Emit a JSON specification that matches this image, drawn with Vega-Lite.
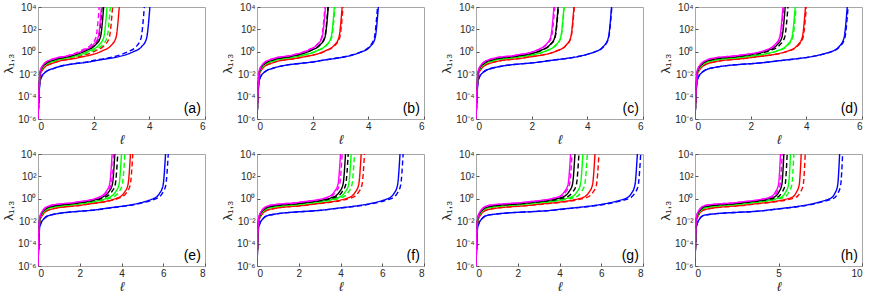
{
"$schema":"https://vega.github.io/schema/vega-lite/v6.json",
"padding":{"left":2,"top":1,"right":2,"bottom":0},
"columns":4,
"spacing":{"row":1,"column":15},
"datasets":{"curves":[
{"p":"a","c":"b","s":"s","x":0,"y":1e-6},{"p":"a","c":"b","s":"s","x":0.08,"y":0.00282},{"p":"a","c":"b","s":"s","x":0.25,"y":0.0141},{"p":"a","c":"b","s":"s","x":0.6,"y":0.0355},{"p":"a","c":"b","s":"s","x":2.01,"y":0.15},{"p":"a","c":"b","s":"s","x":3.42,"y":1},{"p":"a","c":"b","s":"s","x":3.72,"y":2.82},{"p":"a","c":"b","s":"s","x":3.9,"y":15.8},{"p":"a","c":"b","s":"s","x":4.02,"y":10000},
{"p":"a","c":"b","s":"d","x":0,"y":1e-6},{"p":"a","c":"b","s":"d","x":0.08,"y":0.00282},{"p":"a","c":"b","s":"d","x":0.25,"y":0.0141},{"p":"a","c":"b","s":"d","x":0.6,"y":0.0355},{"p":"a","c":"b","s":"d","x":1.91,"y":0.15},{"p":"a","c":"b","s":"d","x":3.22,"y":1},{"p":"a","c":"b","s":"d","x":3.52,"y":2.82},{"p":"a","c":"b","s":"d","x":3.7,"y":15.8},{"p":"a","c":"b","s":"d","x":3.82,"y":10000},
{"p":"a","c":"r","s":"s","x":0,"y":1e-6},{"p":"a","c":"r","s":"s","x":0.08,"y":0.00891},{"p":"a","c":"r","s":"s","x":0.25,"y":0.0447},{"p":"a","c":"r","s":"s","x":0.6,"y":0.112},{"p":"a","c":"r","s":"s","x":1.46,"y":0.299},{"p":"a","c":"r","s":"s","x":2.32,"y":1.26},{"p":"a","c":"r","s":"s","x":2.62,"y":3.55},{"p":"a","c":"r","s":"s","x":2.8,"y":17.8},{"p":"a","c":"r","s":"s","x":2.92,"y":10000},
{"p":"a","c":"r","s":"d","x":0,"y":1e-6},{"p":"a","c":"r","s":"d","x":0.08,"y":0.00891},{"p":"a","c":"r","s":"d","x":0.25,"y":0.0447},{"p":"a","c":"r","s":"d","x":0.6,"y":0.112},{"p":"a","c":"r","s":"d","x":1.34,"y":0.299},{"p":"a","c":"r","s":"d","x":2.08,"y":1.26},{"p":"a","c":"r","s":"d","x":2.38,"y":3.55},{"p":"a","c":"r","s":"d","x":2.56,"y":17.8},{"p":"a","c":"r","s":"d","x":2.68,"y":10000},
{"p":"a","c":"g","s":"s","x":0,"y":1e-6},{"p":"a","c":"g","s":"s","x":0.08,"y":0.0126},{"p":"a","c":"g","s":"s","x":0.25,"y":0.0631},{"p":"a","c":"g","s":"s","x":0.6,"y":0.158},{"p":"a","c":"g","s":"s","x":1.24,"y":0.367},{"p":"a","c":"g","s":"s","x":1.88,"y":1.35},{"p":"a","c":"g","s":"s","x":2.18,"y":3.8},{"p":"a","c":"g","s":"s","x":2.36,"y":18.4},{"p":"a","c":"g","s":"s","x":2.48,"y":10000},
{"p":"a","c":"g","s":"d","x":0,"y":1e-6},{"p":"a","c":"g","s":"d","x":0.08,"y":0.0126},{"p":"a","c":"g","s":"d","x":0.25,"y":0.0631},{"p":"a","c":"g","s":"d","x":0.6,"y":0.158},{"p":"a","c":"g","s":"d","x":1.3,"y":0.367},{"p":"a","c":"g","s":"d","x":2.0,"y":1.35},{"p":"a","c":"g","s":"d","x":2.3,"y":3.8},{"p":"a","c":"g","s":"d","x":2.48,"y":18.4},{"p":"a","c":"g","s":"d","x":2.6,"y":10000},
{"p":"a","c":"k","s":"s","x":0,"y":1e-6},{"p":"a","c":"k","s":"s","x":0.08,"y":0.0159},{"p":"a","c":"k","s":"s","x":0.25,"y":0.0794},{"p":"a","c":"k","s":"s","x":0.6,"y":0.2},{"p":"a","c":"k","s":"s","x":1.18,"y":0.422},{"p":"a","c":"k","s":"s","x":1.76,"y":1.41},{"p":"a","c":"k","s":"s","x":2.06,"y":3.98},{"p":"a","c":"k","s":"s","x":2.24,"y":18.8},{"p":"a","c":"k","s":"s","x":2.36,"y":10000},
{"p":"a","c":"k","s":"d","x":0,"y":1e-6},{"p":"a","c":"k","s":"d","x":0.08,"y":0.0159},{"p":"a","c":"k","s":"d","x":0.25,"y":0.0794},{"p":"a","c":"k","s":"d","x":0.6,"y":0.2},{"p":"a","c":"k","s":"d","x":1.15,"y":0.422},{"p":"a","c":"k","s":"d","x":1.7,"y":1.41},{"p":"a","c":"k","s":"d","x":2.0,"y":3.98},{"p":"a","c":"k","s":"d","x":2.18,"y":18.8},{"p":"a","c":"k","s":"d","x":2.3,"y":10000},
{"p":"a","c":"m","s":"s","x":0,"y":1e-6},{"p":"a","c":"m","s":"s","x":0.08,"y":0.02},{"p":"a","c":"m","s":"s","x":0.25,"y":0.1},{"p":"a","c":"m","s":"s","x":0.6,"y":0.251},{"p":"a","c":"m","s":"s","x":1.14,"y":0.484},{"p":"a","c":"m","s":"s","x":1.68,"y":1.48},{"p":"a","c":"m","s":"s","x":1.98,"y":4.17},{"p":"a","c":"m","s":"s","x":2.16,"y":19.3},{"p":"a","c":"m","s":"s","x":2.28,"y":10000},
{"p":"a","c":"m","s":"d","x":0,"y":1e-6},{"p":"a","c":"m","s":"d","x":0.08,"y":0.02},{"p":"a","c":"m","s":"d","x":0.25,"y":0.1},{"p":"a","c":"m","s":"d","x":0.6,"y":0.251},{"p":"a","c":"m","s":"d","x":1.1,"y":0.484},{"p":"a","c":"m","s":"d","x":1.6,"y":1.48},{"p":"a","c":"m","s":"d","x":1.9,"y":4.17},{"p":"a","c":"m","s":"d","x":2.08,"y":19.3},{"p":"a","c":"m","s":"d","x":2.2,"y":10000},

{"p":"b","c":"b","s":"s","x":0,"y":1e-6},{"p":"b","c":"b","s":"s","x":0.08,"y":0.00282},{"p":"b","c":"b","s":"s","x":0.25,"y":0.0141},{"p":"b","c":"b","s":"s","x":0.6,"y":0.0355},{"p":"b","c":"b","s":"s","x":2.18,"y":0.147},{"p":"b","c":"b","s":"s","x":3.76,"y":1},{"p":"b","c":"b","s":"s","x":4.06,"y":2.82},{"p":"b","c":"b","s":"s","x":4.24,"y":15.8},{"p":"b","c":"b","s":"s","x":4.36,"y":10000},
{"p":"b","c":"b","s":"d","x":0,"y":1e-6},{"p":"b","c":"b","s":"d","x":0.08,"y":0.00282},{"p":"b","c":"b","s":"d","x":0.25,"y":0.0141},{"p":"b","c":"b","s":"d","x":0.6,"y":0.0355},{"p":"b","c":"b","s":"d","x":2.165,"y":0.147},{"p":"b","c":"b","s":"d","x":3.73,"y":1},{"p":"b","c":"b","s":"d","x":4.03,"y":2.82},{"p":"b","c":"b","s":"d","x":4.21,"y":15.8},{"p":"b","c":"b","s":"d","x":4.33,"y":10000},
{"p":"b","c":"r","s":"s","x":0,"y":1e-6},{"p":"b","c":"r","s":"s","x":0.08,"y":0.00891},{"p":"b","c":"r","s":"s","x":0.25,"y":0.0447},{"p":"b","c":"r","s":"s","x":0.6,"y":0.112},{"p":"b","c":"r","s":"s","x":1.53,"y":0.299},{"p":"b","c":"r","s":"s","x":2.46,"y":1.26},{"p":"b","c":"r","s":"s","x":2.76,"y":3.55},{"p":"b","c":"r","s":"s","x":2.94,"y":17.8},{"p":"b","c":"r","s":"s","x":3.06,"y":10000},
{"p":"b","c":"r","s":"d","x":0,"y":1e-6},{"p":"b","c":"r","s":"d","x":0.08,"y":0.00891},{"p":"b","c":"r","s":"d","x":0.25,"y":0.0447},{"p":"b","c":"r","s":"d","x":0.6,"y":0.112},{"p":"b","c":"r","s":"d","x":1.545,"y":0.299},{"p":"b","c":"r","s":"d","x":2.49,"y":1.26},{"p":"b","c":"r","s":"d","x":2.79,"y":3.55},{"p":"b","c":"r","s":"d","x":2.97,"y":17.8},{"p":"b","c":"r","s":"d","x":3.09,"y":10000},
{"p":"b","c":"g","s":"s","x":0,"y":1e-6},{"p":"b","c":"g","s":"s","x":0.08,"y":0.0126},{"p":"b","c":"g","s":"s","x":0.25,"y":0.0631},{"p":"b","c":"g","s":"s","x":0.6,"y":0.158},{"p":"b","c":"g","s":"s","x":1.39,"y":0.367},{"p":"b","c":"g","s":"s","x":2.18,"y":1.35},{"p":"b","c":"g","s":"s","x":2.48,"y":3.8},{"p":"b","c":"g","s":"s","x":2.66,"y":18.4},{"p":"b","c":"g","s":"s","x":2.78,"y":10000},
{"p":"b","c":"g","s":"d","x":0,"y":1e-6},{"p":"b","c":"g","s":"d","x":0.08,"y":0.0126},{"p":"b","c":"g","s":"d","x":0.25,"y":0.0631},{"p":"b","c":"g","s":"d","x":0.6,"y":0.158},{"p":"b","c":"g","s":"d","x":1.4,"y":0.367},{"p":"b","c":"g","s":"d","x":2.2,"y":1.35},{"p":"b","c":"g","s":"d","x":2.5,"y":3.8},{"p":"b","c":"g","s":"d","x":2.68,"y":18.4},{"p":"b","c":"g","s":"d","x":2.8,"y":10000},
{"p":"b","c":"k","s":"s","x":0,"y":1e-6},{"p":"b","c":"k","s":"s","x":0.08,"y":0.0159},{"p":"b","c":"k","s":"s","x":0.25,"y":0.0794},{"p":"b","c":"k","s":"s","x":0.6,"y":0.2},{"p":"b","c":"k","s":"s","x":1.28,"y":0.422},{"p":"b","c":"k","s":"s","x":1.96,"y":1.41},{"p":"b","c":"k","s":"s","x":2.26,"y":3.98},{"p":"b","c":"k","s":"s","x":2.44,"y":18.8},{"p":"b","c":"k","s":"s","x":2.56,"y":10000},
{"p":"b","c":"k","s":"d","x":0,"y":1e-6},{"p":"b","c":"k","s":"d","x":0.08,"y":0.0159},{"p":"b","c":"k","s":"d","x":0.25,"y":0.0794},{"p":"b","c":"k","s":"d","x":0.6,"y":0.2},{"p":"b","c":"k","s":"d","x":1.275,"y":0.422},{"p":"b","c":"k","s":"d","x":1.95,"y":1.41},{"p":"b","c":"k","s":"d","x":2.25,"y":3.98},{"p":"b","c":"k","s":"d","x":2.43,"y":18.8},{"p":"b","c":"k","s":"d","x":2.55,"y":10000},
{"p":"b","c":"m","s":"s","x":0,"y":1e-6},{"p":"b","c":"m","s":"s","x":0.08,"y":0.02},{"p":"b","c":"m","s":"s","x":0.25,"y":0.1},{"p":"b","c":"m","s":"s","x":0.6,"y":0.251},{"p":"b","c":"m","s":"s","x":1.23,"y":0.484},{"p":"b","c":"m","s":"s","x":1.86,"y":1.48},{"p":"b","c":"m","s":"s","x":2.16,"y":4.17},{"p":"b","c":"m","s":"s","x":2.34,"y":19.3},{"p":"b","c":"m","s":"s","x":2.46,"y":10000},
{"p":"b","c":"m","s":"d","x":0,"y":1e-6},{"p":"b","c":"m","s":"d","x":0.08,"y":0.02},{"p":"b","c":"m","s":"d","x":0.25,"y":0.1},{"p":"b","c":"m","s":"d","x":0.6,"y":0.251},{"p":"b","c":"m","s":"d","x":1.22,"y":0.484},{"p":"b","c":"m","s":"d","x":1.84,"y":1.48},{"p":"b","c":"m","s":"d","x":2.14,"y":4.17},{"p":"b","c":"m","s":"d","x":2.32,"y":19.3},{"p":"b","c":"m","s":"d","x":2.44,"y":10000},

{"p":"c","c":"b","s":"s","x":0,"y":1e-6},{"p":"c","c":"b","s":"s","x":0.08,"y":0.00282},{"p":"c","c":"b","s":"s","x":0.25,"y":0.0141},{"p":"c","c":"b","s":"s","x":0.6,"y":0.0355},{"p":"c","c":"b","s":"s","x":2.435,"y":0.138},{"p":"c","c":"b","s":"s","x":4.27,"y":1},{"p":"c","c":"b","s":"s","x":4.57,"y":2.82},{"p":"c","c":"b","s":"s","x":4.75,"y":15.8},{"p":"c","c":"b","s":"s","x":4.87,"y":10000},
{"p":"c","c":"b","s":"d","x":0,"y":1e-6},{"p":"c","c":"b","s":"d","x":0.08,"y":0.00282},{"p":"c","c":"b","s":"d","x":0.25,"y":0.0141},{"p":"c","c":"b","s":"d","x":0.6,"y":0.0355},{"p":"c","c":"b","s":"d","x":2.44,"y":0.138},{"p":"c","c":"b","s":"d","x":4.28,"y":1},{"p":"c","c":"b","s":"d","x":4.58,"y":2.82},{"p":"c","c":"b","s":"d","x":4.76,"y":15.8},{"p":"c","c":"b","s":"d","x":4.88,"y":10000},
{"p":"c","c":"r","s":"s","x":0,"y":1e-6},{"p":"c","c":"r","s":"s","x":0.08,"y":0.00891},{"p":"c","c":"r","s":"s","x":0.25,"y":0.0447},{"p":"c","c":"r","s":"s","x":0.6,"y":0.112},{"p":"c","c":"r","s":"s","x":1.76,"y":0.299},{"p":"c","c":"r","s":"s","x":2.92,"y":1.26},{"p":"c","c":"r","s":"s","x":3.22,"y":3.55},{"p":"c","c":"r","s":"s","x":3.4,"y":17.8},{"p":"c","c":"r","s":"s","x":3.52,"y":10000},
{"p":"c","c":"r","s":"d","x":0,"y":1e-6},{"p":"c","c":"r","s":"d","x":0.08,"y":0.00891},{"p":"c","c":"r","s":"d","x":0.25,"y":0.0447},{"p":"c","c":"r","s":"d","x":0.6,"y":0.112},{"p":"c","c":"r","s":"d","x":1.765,"y":0.299},{"p":"c","c":"r","s":"d","x":2.93,"y":1.26},{"p":"c","c":"r","s":"d","x":3.23,"y":3.55},{"p":"c","c":"r","s":"d","x":3.41,"y":17.8},{"p":"c","c":"r","s":"d","x":3.53,"y":10000},
{"p":"c","c":"g","s":"s","x":0,"y":1e-6},{"p":"c","c":"g","s":"s","x":0.08,"y":0.0126},{"p":"c","c":"g","s":"s","x":0.25,"y":0.0631},{"p":"c","c":"g","s":"s","x":0.6,"y":0.158},{"p":"c","c":"g","s":"s","x":1.58,"y":0.367},{"p":"c","c":"g","s":"s","x":2.56,"y":1.35},{"p":"c","c":"g","s":"s","x":2.86,"y":3.8},{"p":"c","c":"g","s":"s","x":3.04,"y":18.4},{"p":"c","c":"g","s":"s","x":3.16,"y":10000},
{"p":"c","c":"g","s":"d","x":0,"y":1e-6},{"p":"c","c":"g","s":"d","x":0.08,"y":0.0126},{"p":"c","c":"g","s":"d","x":0.25,"y":0.0631},{"p":"c","c":"g","s":"d","x":0.6,"y":0.158},{"p":"c","c":"g","s":"d","x":1.585,"y":0.367},{"p":"c","c":"g","s":"d","x":2.57,"y":1.35},{"p":"c","c":"g","s":"d","x":2.87,"y":3.8},{"p":"c","c":"g","s":"d","x":3.05,"y":18.4},{"p":"c","c":"g","s":"d","x":3.17,"y":10000},
{"p":"c","c":"k","s":"s","x":0,"y":1e-6},{"p":"c","c":"k","s":"s","x":0.08,"y":0.0159},{"p":"c","c":"k","s":"s","x":0.25,"y":0.0794},{"p":"c","c":"k","s":"s","x":0.6,"y":0.2},{"p":"c","c":"k","s":"s","x":1.475,"y":0.422},{"p":"c","c":"k","s":"s","x":2.35,"y":1.41},{"p":"c","c":"k","s":"s","x":2.65,"y":3.98},{"p":"c","c":"k","s":"s","x":2.83,"y":18.8},{"p":"c","c":"k","s":"s","x":2.95,"y":10000},
{"p":"c","c":"k","s":"d","x":0,"y":1e-6},{"p":"c","c":"k","s":"d","x":0.08,"y":0.0159},{"p":"c","c":"k","s":"d","x":0.25,"y":0.0794},{"p":"c","c":"k","s":"d","x":0.6,"y":0.2},{"p":"c","c":"k","s":"d","x":1.48,"y":0.422},{"p":"c","c":"k","s":"d","x":2.36,"y":1.41},{"p":"c","c":"k","s":"d","x":2.66,"y":3.98},{"p":"c","c":"k","s":"d","x":2.84,"y":18.8},{"p":"c","c":"k","s":"d","x":2.96,"y":10000},
{"p":"c","c":"m","s":"s","x":0,"y":1e-6},{"p":"c","c":"m","s":"s","x":0.08,"y":0.02},{"p":"c","c":"m","s":"s","x":0.25,"y":0.1},{"p":"c","c":"m","s":"s","x":0.6,"y":0.251},{"p":"c","c":"m","s":"s","x":1.4,"y":0.484},{"p":"c","c":"m","s":"s","x":2.2,"y":1.48},{"p":"c","c":"m","s":"s","x":2.5,"y":4.17},{"p":"c","c":"m","s":"s","x":2.68,"y":19.3},{"p":"c","c":"m","s":"s","x":2.8,"y":10000},
{"p":"c","c":"m","s":"d","x":0,"y":1e-6},{"p":"c","c":"m","s":"d","x":0.08,"y":0.02},{"p":"c","c":"m","s":"d","x":0.25,"y":0.1},{"p":"c","c":"m","s":"d","x":0.6,"y":0.251},{"p":"c","c":"m","s":"d","x":1.415,"y":0.484},{"p":"c","c":"m","s":"d","x":2.23,"y":1.48},{"p":"c","c":"m","s":"d","x":2.53,"y":4.17},{"p":"c","c":"m","s":"d","x":2.71,"y":19.3},{"p":"c","c":"m","s":"d","x":2.83,"y":10000},

{"p":"d","c":"b","s":"s","x":0,"y":1e-6},{"p":"d","c":"b","s":"s","x":0.08,"y":0.00282},{"p":"d","c":"b","s":"s","x":0.25,"y":0.0141},{"p":"d","c":"b","s":"s","x":0.6,"y":0.0355},{"p":"d","c":"b","s":"s","x":2.735,"y":0.13},{"p":"d","c":"b","s":"s","x":4.87,"y":1},{"p":"d","c":"b","s":"s","x":5.17,"y":2.82},{"p":"d","c":"b","s":"s","x":5.35,"y":15.8},{"p":"d","c":"b","s":"s","x":5.47,"y":10000},
{"p":"d","c":"b","s":"d","x":0,"y":1e-6},{"p":"d","c":"b","s":"d","x":0.08,"y":0.00282},{"p":"d","c":"b","s":"d","x":0.25,"y":0.0141},{"p":"d","c":"b","s":"d","x":0.6,"y":0.0355},{"p":"d","c":"b","s":"d","x":2.75,"y":0.13},{"p":"d","c":"b","s":"d","x":4.9,"y":1},{"p":"d","c":"b","s":"d","x":5.2,"y":2.82},{"p":"d","c":"b","s":"d","x":5.38,"y":15.8},{"p":"d","c":"b","s":"d","x":5.5,"y":10000},
{"p":"d","c":"r","s":"s","x":0,"y":1e-6},{"p":"d","c":"r","s":"s","x":0.08,"y":0.00891},{"p":"d","c":"r","s":"s","x":0.25,"y":0.0447},{"p":"d","c":"r","s":"s","x":0.6,"y":0.112},{"p":"d","c":"r","s":"s","x":1.985,"y":0.299},{"p":"d","c":"r","s":"s","x":3.37,"y":1.26},{"p":"d","c":"r","s":"s","x":3.67,"y":3.55},{"p":"d","c":"r","s":"s","x":3.85,"y":17.8},{"p":"d","c":"r","s":"s","x":3.97,"y":10000},
{"p":"d","c":"r","s":"d","x":0,"y":1e-6},{"p":"d","c":"r","s":"d","x":0.08,"y":0.00891},{"p":"d","c":"r","s":"d","x":0.25,"y":0.0447},{"p":"d","c":"r","s":"d","x":0.6,"y":0.112},{"p":"d","c":"r","s":"d","x":2.0,"y":0.299},{"p":"d","c":"r","s":"d","x":3.4,"y":1.26},{"p":"d","c":"r","s":"d","x":3.7,"y":3.55},{"p":"d","c":"r","s":"d","x":3.88,"y":17.8},{"p":"d","c":"r","s":"d","x":4.0,"y":10000},
{"p":"d","c":"g","s":"s","x":0,"y":1e-6},{"p":"d","c":"g","s":"s","x":0.08,"y":0.0126},{"p":"d","c":"g","s":"s","x":0.25,"y":0.0631},{"p":"d","c":"g","s":"s","x":0.6,"y":0.158},{"p":"d","c":"g","s":"s","x":1.8,"y":0.367},{"p":"d","c":"g","s":"s","x":3.0,"y":1.35},{"p":"d","c":"g","s":"s","x":3.3,"y":3.8},{"p":"d","c":"g","s":"s","x":3.48,"y":18.4},{"p":"d","c":"g","s":"s","x":3.6,"y":10000},
{"p":"d","c":"g","s":"d","x":0,"y":1e-6},{"p":"d","c":"g","s":"d","x":0.08,"y":0.0126},{"p":"d","c":"g","s":"d","x":0.25,"y":0.0631},{"p":"d","c":"g","s":"d","x":0.6,"y":0.158},{"p":"d","c":"g","s":"d","x":1.815,"y":0.367},{"p":"d","c":"g","s":"d","x":3.03,"y":1.35},{"p":"d","c":"g","s":"d","x":3.33,"y":3.8},{"p":"d","c":"g","s":"d","x":3.51,"y":18.4},{"p":"d","c":"g","s":"d","x":3.63,"y":10000},
{"p":"d","c":"k","s":"s","x":0,"y":1e-6},{"p":"d","c":"k","s":"s","x":0.08,"y":0.0159},{"p":"d","c":"k","s":"s","x":0.25,"y":0.0794},{"p":"d","c":"k","s":"s","x":0.6,"y":0.2},{"p":"d","c":"k","s":"s","x":1.62,"y":0.422},{"p":"d","c":"k","s":"s","x":2.64,"y":1.41},{"p":"d","c":"k","s":"s","x":2.94,"y":3.98},{"p":"d","c":"k","s":"s","x":3.12,"y":18.8},{"p":"d","c":"k","s":"s","x":3.24,"y":10000},
{"p":"d","c":"k","s":"d","x":0,"y":1e-6},{"p":"d","c":"k","s":"d","x":0.08,"y":0.0159},{"p":"d","c":"k","s":"d","x":0.25,"y":0.0794},{"p":"d","c":"k","s":"d","x":0.6,"y":0.2},{"p":"d","c":"k","s":"d","x":1.67,"y":0.422},{"p":"d","c":"k","s":"d","x":2.74,"y":1.41},{"p":"d","c":"k","s":"d","x":3.04,"y":3.98},{"p":"d","c":"k","s":"d","x":3.22,"y":18.8},{"p":"d","c":"k","s":"d","x":3.34,"y":10000},
{"p":"d","c":"m","s":"s","x":0,"y":1e-6},{"p":"d","c":"m","s":"s","x":0.08,"y":0.02},{"p":"d","c":"m","s":"s","x":0.25,"y":0.1},{"p":"d","c":"m","s":"s","x":0.6,"y":0.251},{"p":"d","c":"m","s":"s","x":1.58,"y":0.484},{"p":"d","c":"m","s":"s","x":2.56,"y":1.48},{"p":"d","c":"m","s":"s","x":2.86,"y":4.17},{"p":"d","c":"m","s":"s","x":3.04,"y":19.3},{"p":"d","c":"m","s":"s","x":3.16,"y":10000},
{"p":"d","c":"m","s":"d","x":0,"y":1e-6},{"p":"d","c":"m","s":"d","x":0.08,"y":0.02},{"p":"d","c":"m","s":"d","x":0.25,"y":0.1},{"p":"d","c":"m","s":"d","x":0.6,"y":0.251},{"p":"d","c":"m","s":"d","x":1.595,"y":0.484},{"p":"d","c":"m","s":"d","x":2.59,"y":1.48},{"p":"d","c":"m","s":"d","x":2.89,"y":4.17},{"p":"d","c":"m","s":"d","x":3.07,"y":19.3},{"p":"d","c":"m","s":"d","x":3.19,"y":10000},

{"p":"e","c":"b","s":"s","x":0,"y":1e-6},{"p":"e","c":"b","s":"s","x":0.08,"y":0.00282},{"p":"e","c":"b","s":"s","x":0.25,"y":0.0141},{"p":"e","c":"b","s":"s","x":0.6,"y":0.0355},{"p":"e","c":"b","s":"s","x":3.055,"y":0.123},{"p":"e","c":"b","s":"s","x":5.51,"y":1},{"p":"e","c":"b","s":"s","x":5.81,"y":2.82},{"p":"e","c":"b","s":"s","x":5.99,"y":15.8},{"p":"e","c":"b","s":"s","x":6.11,"y":10000},
{"p":"e","c":"b","s":"d","x":0,"y":1e-6},{"p":"e","c":"b","s":"d","x":0.08,"y":0.00282},{"p":"e","c":"b","s":"d","x":0.25,"y":0.0141},{"p":"e","c":"b","s":"d","x":0.6,"y":0.0355},{"p":"e","c":"b","s":"d","x":3.12,"y":0.123},{"p":"e","c":"b","s":"d","x":5.64,"y":1},{"p":"e","c":"b","s":"d","x":5.94,"y":2.82},{"p":"e","c":"b","s":"d","x":6.12,"y":15.8},{"p":"e","c":"b","s":"d","x":6.24,"y":10000},
{"p":"e","c":"r","s":"s","x":0,"y":1e-6},{"p":"e","c":"r","s":"s","x":0.08,"y":0.00891},{"p":"e","c":"r","s":"s","x":0.25,"y":0.0447},{"p":"e","c":"r","s":"s","x":0.6,"y":0.112},{"p":"e","c":"r","s":"s","x":2.215,"y":0.299},{"p":"e","c":"r","s":"s","x":3.83,"y":1.26},{"p":"e","c":"r","s":"s","x":4.13,"y":3.55},{"p":"e","c":"r","s":"s","x":4.31,"y":17.8},{"p":"e","c":"r","s":"s","x":4.43,"y":10000},
{"p":"e","c":"r","s":"d","x":0,"y":1e-6},{"p":"e","c":"r","s":"d","x":0.08,"y":0.00891},{"p":"e","c":"r","s":"d","x":0.25,"y":0.0447},{"p":"e","c":"r","s":"d","x":0.6,"y":0.112},{"p":"e","c":"r","s":"d","x":2.27,"y":0.299},{"p":"e","c":"r","s":"d","x":3.94,"y":1.26},{"p":"e","c":"r","s":"d","x":4.24,"y":3.55},{"p":"e","c":"r","s":"d","x":4.42,"y":17.8},{"p":"e","c":"r","s":"d","x":4.54,"y":10000},
{"p":"e","c":"g","s":"s","x":0,"y":1e-6},{"p":"e","c":"g","s":"s","x":0.08,"y":0.0126},{"p":"e","c":"g","s":"s","x":0.25,"y":0.0631},{"p":"e","c":"g","s":"s","x":0.6,"y":0.158},{"p":"e","c":"g","s":"s","x":2.0,"y":0.367},{"p":"e","c":"g","s":"s","x":3.4,"y":1.35},{"p":"e","c":"g","s":"s","x":3.7,"y":3.8},{"p":"e","c":"g","s":"s","x":3.88,"y":18.4},{"p":"e","c":"g","s":"s","x":4.0,"y":10000},
{"p":"e","c":"g","s":"d","x":0,"y":1e-6},{"p":"e","c":"g","s":"d","x":0.08,"y":0.0126},{"p":"e","c":"g","s":"d","x":0.25,"y":0.0631},{"p":"e","c":"g","s":"d","x":0.6,"y":0.158},{"p":"e","c":"g","s":"d","x":2.08,"y":0.367},{"p":"e","c":"g","s":"d","x":3.56,"y":1.35},{"p":"e","c":"g","s":"d","x":3.86,"y":3.8},{"p":"e","c":"g","s":"d","x":4.04,"y":18.4},{"p":"e","c":"g","s":"d","x":4.16,"y":10000},
{"p":"e","c":"k","s":"s","x":0,"y":1e-6},{"p":"e","c":"k","s":"s","x":0.08,"y":0.0159},{"p":"e","c":"k","s":"s","x":0.25,"y":0.0794},{"p":"e","c":"k","s":"s","x":0.6,"y":0.2},{"p":"e","c":"k","s":"s","x":1.84,"y":0.422},{"p":"e","c":"k","s":"s","x":3.08,"y":1.41},{"p":"e","c":"k","s":"s","x":3.38,"y":3.98},{"p":"e","c":"k","s":"s","x":3.56,"y":18.8},{"p":"e","c":"k","s":"s","x":3.68,"y":10000},
{"p":"e","c":"k","s":"d","x":0,"y":1e-6},{"p":"e","c":"k","s":"d","x":0.08,"y":0.0159},{"p":"e","c":"k","s":"d","x":0.25,"y":0.0794},{"p":"e","c":"k","s":"d","x":0.6,"y":0.2},{"p":"e","c":"k","s":"d","x":1.91,"y":0.422},{"p":"e","c":"k","s":"d","x":3.22,"y":1.41},{"p":"e","c":"k","s":"d","x":3.52,"y":3.98},{"p":"e","c":"k","s":"d","x":3.7,"y":18.8},{"p":"e","c":"k","s":"d","x":3.82,"y":10000},
{"p":"e","c":"m","s":"s","x":0,"y":1e-6},{"p":"e","c":"m","s":"s","x":0.08,"y":0.02},{"p":"e","c":"m","s":"s","x":0.25,"y":0.1},{"p":"e","c":"m","s":"s","x":0.6,"y":0.251},{"p":"e","c":"m","s":"s","x":1.775,"y":0.484},{"p":"e","c":"m","s":"s","x":2.95,"y":1.48},{"p":"e","c":"m","s":"s","x":3.25,"y":4.17},{"p":"e","c":"m","s":"s","x":3.43,"y":19.3},{"p":"e","c":"m","s":"s","x":3.55,"y":10000},
{"p":"e","c":"m","s":"d","x":0,"y":1e-6},{"p":"e","c":"m","s":"d","x":0.08,"y":0.02},{"p":"e","c":"m","s":"d","x":0.25,"y":0.1},{"p":"e","c":"m","s":"d","x":0.6,"y":0.251},{"p":"e","c":"m","s":"d","x":1.815,"y":0.484},{"p":"e","c":"m","s":"d","x":3.03,"y":1.48},{"p":"e","c":"m","s":"d","x":3.33,"y":4.17},{"p":"e","c":"m","s":"d","x":3.51,"y":19.3},{"p":"e","c":"m","s":"d","x":3.63,"y":10000},

{"p":"f","c":"b","s":"s","x":0,"y":1e-6},{"p":"f","c":"b","s":"s","x":0.08,"y":0.00282},{"p":"f","c":"b","s":"s","x":0.25,"y":0.0141},{"p":"f","c":"b","s":"s","x":0.6,"y":0.0355},{"p":"f","c":"b","s":"s","x":3.425,"y":0.115},{"p":"f","c":"b","s":"s","x":6.25,"y":1},{"p":"f","c":"b","s":"s","x":6.55,"y":2.82},{"p":"f","c":"b","s":"s","x":6.73,"y":15.8},{"p":"f","c":"b","s":"s","x":6.85,"y":10000},
{"p":"f","c":"b","s":"d","x":0,"y":1e-6},{"p":"f","c":"b","s":"d","x":0.08,"y":0.00282},{"p":"f","c":"b","s":"d","x":0.25,"y":0.0141},{"p":"f","c":"b","s":"d","x":0.6,"y":0.0355},{"p":"f","c":"b","s":"d","x":3.5,"y":0.115},{"p":"f","c":"b","s":"d","x":6.4,"y":1},{"p":"f","c":"b","s":"d","x":6.7,"y":2.82},{"p":"f","c":"b","s":"d","x":6.88,"y":15.8},{"p":"f","c":"b","s":"d","x":7.0,"y":10000},
{"p":"f","c":"r","s":"s","x":0,"y":1e-6},{"p":"f","c":"r","s":"s","x":0.08,"y":0.00891},{"p":"f","c":"r","s":"s","x":0.25,"y":0.0447},{"p":"f","c":"r","s":"s","x":0.6,"y":0.112},{"p":"f","c":"r","s":"s","x":2.495,"y":0.299},{"p":"f","c":"r","s":"s","x":4.39,"y":1.26},{"p":"f","c":"r","s":"s","x":4.69,"y":3.55},{"p":"f","c":"r","s":"s","x":4.87,"y":17.8},{"p":"f","c":"r","s":"s","x":4.99,"y":10000},
{"p":"f","c":"r","s":"d","x":0,"y":1e-6},{"p":"f","c":"r","s":"d","x":0.08,"y":0.00891},{"p":"f","c":"r","s":"d","x":0.25,"y":0.0447},{"p":"f","c":"r","s":"d","x":0.6,"y":0.112},{"p":"f","c":"r","s":"d","x":2.575,"y":0.299},{"p":"f","c":"r","s":"d","x":4.55,"y":1.26},{"p":"f","c":"r","s":"d","x":4.85,"y":3.55},{"p":"f","c":"r","s":"d","x":5.03,"y":17.8},{"p":"f","c":"r","s":"d","x":5.15,"y":10000},
{"p":"f","c":"g","s":"s","x":0,"y":1e-6},{"p":"f","c":"g","s":"s","x":0.08,"y":0.0126},{"p":"f","c":"g","s":"s","x":0.25,"y":0.0631},{"p":"f","c":"g","s":"s","x":0.6,"y":0.158},{"p":"f","c":"g","s":"s","x":2.255,"y":0.367},{"p":"f","c":"g","s":"s","x":3.91,"y":1.35},{"p":"f","c":"g","s":"s","x":4.21,"y":3.8},{"p":"f","c":"g","s":"s","x":4.39,"y":18.4},{"p":"f","c":"g","s":"s","x":4.51,"y":10000},
{"p":"f","c":"g","s":"d","x":0,"y":1e-6},{"p":"f","c":"g","s":"d","x":0.08,"y":0.0126},{"p":"f","c":"g","s":"d","x":0.25,"y":0.0631},{"p":"f","c":"g","s":"d","x":0.6,"y":0.158},{"p":"f","c":"g","s":"d","x":2.335,"y":0.367},{"p":"f","c":"g","s":"d","x":4.07,"y":1.35},{"p":"f","c":"g","s":"d","x":4.37,"y":3.8},{"p":"f","c":"g","s":"d","x":4.55,"y":18.4},{"p":"f","c":"g","s":"d","x":4.67,"y":10000},
{"p":"f","c":"k","s":"s","x":0,"y":1e-6},{"p":"f","c":"k","s":"s","x":0.08,"y":0.0159},{"p":"f","c":"k","s":"s","x":0.25,"y":0.0794},{"p":"f","c":"k","s":"s","x":0.6,"y":0.2},{"p":"f","c":"k","s":"s","x":2.12,"y":0.422},{"p":"f","c":"k","s":"s","x":3.64,"y":1.41},{"p":"f","c":"k","s":"s","x":3.94,"y":3.98},{"p":"f","c":"k","s":"s","x":4.12,"y":18.8},{"p":"f","c":"k","s":"s","x":4.24,"y":10000},
{"p":"f","c":"k","s":"d","x":0,"y":1e-6},{"p":"f","c":"k","s":"d","x":0.08,"y":0.0159},{"p":"f","c":"k","s":"d","x":0.25,"y":0.0794},{"p":"f","c":"k","s":"d","x":0.6,"y":0.2},{"p":"f","c":"k","s":"d","x":2.185,"y":0.422},{"p":"f","c":"k","s":"d","x":3.77,"y":1.41},{"p":"f","c":"k","s":"d","x":4.07,"y":3.98},{"p":"f","c":"k","s":"d","x":4.25,"y":18.8},{"p":"f","c":"k","s":"d","x":4.37,"y":10000},
{"p":"f","c":"m","s":"s","x":0,"y":1e-6},{"p":"f","c":"m","s":"s","x":0.08,"y":0.02},{"p":"f","c":"m","s":"s","x":0.25,"y":0.1},{"p":"f","c":"m","s":"s","x":0.6,"y":0.251},{"p":"f","c":"m","s":"s","x":2.0,"y":0.484},{"p":"f","c":"m","s":"s","x":3.4,"y":1.48},{"p":"f","c":"m","s":"s","x":3.7,"y":4.17},{"p":"f","c":"m","s":"s","x":3.88,"y":19.3},{"p":"f","c":"m","s":"s","x":4.0,"y":10000},
{"p":"f","c":"m","s":"d","x":0,"y":1e-6},{"p":"f","c":"m","s":"d","x":0.08,"y":0.02},{"p":"f","c":"m","s":"d","x":0.25,"y":0.1},{"p":"f","c":"m","s":"d","x":0.6,"y":0.251},{"p":"f","c":"m","s":"d","x":2.04,"y":0.484},{"p":"f","c":"m","s":"d","x":3.48,"y":1.48},{"p":"f","c":"m","s":"d","x":3.78,"y":4.17},{"p":"f","c":"m","s":"d","x":3.96,"y":19.3},{"p":"f","c":"m","s":"d","x":4.08,"y":10000},

{"p":"g","c":"b","s":"s","x":0,"y":1e-6},{"p":"g","c":"b","s":"s","x":0.08,"y":0.00282},{"p":"g","c":"b","s":"s","x":0.25,"y":0.0141},{"p":"g","c":"b","s":"s","x":0.6,"y":0.0355},{"p":"g","c":"b","s":"s","x":3.865,"y":0.106},{"p":"g","c":"b","s":"s","x":7.13,"y":1},{"p":"g","c":"b","s":"s","x":7.43,"y":2.82},{"p":"g","c":"b","s":"s","x":7.61,"y":15.8},{"p":"g","c":"b","s":"s","x":7.73,"y":10000},
{"p":"g","c":"b","s":"d","x":0,"y":1e-6},{"p":"g","c":"b","s":"d","x":0.08,"y":0.00282},{"p":"g","c":"b","s":"d","x":0.25,"y":0.0141},{"p":"g","c":"b","s":"d","x":0.6,"y":0.0355},{"p":"g","c":"b","s":"d","x":3.945,"y":0.106},{"p":"g","c":"b","s":"d","x":7.29,"y":1},{"p":"g","c":"b","s":"d","x":7.59,"y":2.82},{"p":"g","c":"b","s":"d","x":7.77,"y":15.8},{"p":"g","c":"b","s":"d","x":7.89,"y":10000},
{"p":"g","c":"r","s":"s","x":0,"y":1e-6},{"p":"g","c":"r","s":"s","x":0.08,"y":0.00891},{"p":"g","c":"r","s":"s","x":0.25,"y":0.0447},{"p":"g","c":"r","s":"s","x":0.6,"y":0.112},{"p":"g","c":"r","s":"s","x":2.85,"y":0.299},{"p":"g","c":"r","s":"s","x":5.1,"y":1.26},{"p":"g","c":"r","s":"s","x":5.4,"y":3.55},{"p":"g","c":"r","s":"s","x":5.58,"y":17.8},{"p":"g","c":"r","s":"s","x":5.7,"y":10000},
{"p":"g","c":"r","s":"d","x":0,"y":1e-6},{"p":"g","c":"r","s":"d","x":0.08,"y":0.00891},{"p":"g","c":"r","s":"d","x":0.25,"y":0.0447},{"p":"g","c":"r","s":"d","x":0.6,"y":0.112},{"p":"g","c":"r","s":"d","x":2.945,"y":0.299},{"p":"g","c":"r","s":"d","x":5.29,"y":1.26},{"p":"g","c":"r","s":"d","x":5.59,"y":3.55},{"p":"g","c":"r","s":"d","x":5.77,"y":17.8},{"p":"g","c":"r","s":"d","x":5.89,"y":10000},
{"p":"g","c":"g","s":"s","x":0,"y":1e-6},{"p":"g","c":"g","s":"s","x":0.08,"y":0.0126},{"p":"g","c":"g","s":"s","x":0.25,"y":0.0631},{"p":"g","c":"g","s":"s","x":0.6,"y":0.158},{"p":"g","c":"g","s":"s","x":2.56,"y":0.367},{"p":"g","c":"g","s":"s","x":4.52,"y":1.35},{"p":"g","c":"g","s":"s","x":4.82,"y":3.8},{"p":"g","c":"g","s":"s","x":5.0,"y":18.4},{"p":"g","c":"g","s":"s","x":5.12,"y":10000},
{"p":"g","c":"g","s":"d","x":0,"y":1e-6},{"p":"g","c":"g","s":"d","x":0.08,"y":0.0126},{"p":"g","c":"g","s":"d","x":0.25,"y":0.0631},{"p":"g","c":"g","s":"d","x":0.6,"y":0.158},{"p":"g","c":"g","s":"d","x":2.665,"y":0.367},{"p":"g","c":"g","s":"d","x":4.73,"y":1.35},{"p":"g","c":"g","s":"d","x":5.03,"y":3.8},{"p":"g","c":"g","s":"d","x":5.21,"y":18.4},{"p":"g","c":"g","s":"d","x":5.33,"y":10000},
{"p":"g","c":"k","s":"s","x":0,"y":1e-6},{"p":"g","c":"k","s":"s","x":0.08,"y":0.0159},{"p":"g","c":"k","s":"s","x":0.25,"y":0.0794},{"p":"g","c":"k","s":"s","x":0.6,"y":0.2},{"p":"g","c":"k","s":"s","x":2.37,"y":0.422},{"p":"g","c":"k","s":"s","x":4.14,"y":1.41},{"p":"g","c":"k","s":"s","x":4.44,"y":3.98},{"p":"g","c":"k","s":"s","x":4.62,"y":18.8},{"p":"g","c":"k","s":"s","x":4.74,"y":10000},
{"p":"g","c":"k","s":"d","x":0,"y":1e-6},{"p":"g","c":"k","s":"d","x":0.08,"y":0.0159},{"p":"g","c":"k","s":"d","x":0.25,"y":0.0794},{"p":"g","c":"k","s":"d","x":0.6,"y":0.2},{"p":"g","c":"k","s":"d","x":2.465,"y":0.422},{"p":"g","c":"k","s":"d","x":4.33,"y":1.41},{"p":"g","c":"k","s":"d","x":4.63,"y":3.98},{"p":"g","c":"k","s":"d","x":4.81,"y":18.8},{"p":"g","c":"k","s":"d","x":4.93,"y":10000},
{"p":"g","c":"m","s":"s","x":0,"y":1e-6},{"p":"g","c":"m","s":"s","x":0.08,"y":0.02},{"p":"g","c":"m","s":"s","x":0.25,"y":0.1},{"p":"g","c":"m","s":"s","x":0.6,"y":0.251},{"p":"g","c":"m","s":"s","x":2.265,"y":0.484},{"p":"g","c":"m","s":"s","x":3.93,"y":1.48},{"p":"g","c":"m","s":"s","x":4.23,"y":4.17},{"p":"g","c":"m","s":"s","x":4.41,"y":19.3},{"p":"g","c":"m","s":"s","x":4.53,"y":10000},
{"p":"g","c":"m","s":"d","x":0,"y":1e-6},{"p":"g","c":"m","s":"d","x":0.08,"y":0.02},{"p":"g","c":"m","s":"d","x":0.25,"y":0.1},{"p":"g","c":"m","s":"d","x":0.6,"y":0.251},{"p":"g","c":"m","s":"d","x":2.3,"y":0.484},{"p":"g","c":"m","s":"d","x":4.0,"y":1.48},{"p":"g","c":"m","s":"d","x":4.3,"y":4.17},{"p":"g","c":"m","s":"d","x":4.48,"y":19.3},{"p":"g","c":"m","s":"d","x":4.6,"y":10000},

{"p":"h","c":"b","s":"s","x":0,"y":1e-6},{"p":"h","c":"b","s":"s","x":0.08,"y":0.00282},{"p":"h","c":"b","s":"s","x":0.25,"y":0.0141},{"p":"h","c":"b","s":"s","x":0.6,"y":0.0355},{"p":"h","c":"b","s":"s","x":4.33,"y":0.097},{"p":"h","c":"b","s":"s","x":8.06,"y":1},{"p":"h","c":"b","s":"s","x":8.36,"y":2.82},{"p":"h","c":"b","s":"s","x":8.54,"y":15.8},{"p":"h","c":"b","s":"s","x":8.66,"y":10000},
{"p":"h","c":"b","s":"d","x":0,"y":1e-6},{"p":"h","c":"b","s":"d","x":0.08,"y":0.00282},{"p":"h","c":"b","s":"d","x":0.25,"y":0.0141},{"p":"h","c":"b","s":"d","x":0.6,"y":0.0355},{"p":"h","c":"b","s":"d","x":4.42,"y":0.097},{"p":"h","c":"b","s":"d","x":8.24,"y":1},{"p":"h","c":"b","s":"d","x":8.54,"y":2.82},{"p":"h","c":"b","s":"d","x":8.72,"y":15.8},{"p":"h","c":"b","s":"d","x":8.84,"y":10000},
{"p":"h","c":"r","s":"s","x":0,"y":1e-6},{"p":"h","c":"r","s":"s","x":0.08,"y":0.00891},{"p":"h","c":"r","s":"s","x":0.25,"y":0.0447},{"p":"h","c":"r","s":"s","x":0.6,"y":0.112},{"p":"h","c":"r","s":"s","x":3.18,"y":0.299},{"p":"h","c":"r","s":"s","x":5.76,"y":1.26},{"p":"h","c":"r","s":"s","x":6.06,"y":3.55},{"p":"h","c":"r","s":"s","x":6.24,"y":17.8},{"p":"h","c":"r","s":"s","x":6.36,"y":10000},
{"p":"h","c":"r","s":"d","x":0,"y":1e-6},{"p":"h","c":"r","s":"d","x":0.08,"y":0.00891},{"p":"h","c":"r","s":"d","x":0.25,"y":0.0447},{"p":"h","c":"r","s":"d","x":0.6,"y":0.112},{"p":"h","c":"r","s":"d","x":3.3,"y":0.299},{"p":"h","c":"r","s":"d","x":6.0,"y":1.26},{"p":"h","c":"r","s":"d","x":6.3,"y":3.55},{"p":"h","c":"r","s":"d","x":6.48,"y":17.8},{"p":"h","c":"r","s":"d","x":6.6,"y":10000},
{"p":"h","c":"g","s":"s","x":0,"y":1e-6},{"p":"h","c":"g","s":"s","x":0.08,"y":0.0126},{"p":"h","c":"g","s":"s","x":0.25,"y":0.0631},{"p":"h","c":"g","s":"s","x":0.6,"y":0.158},{"p":"h","c":"g","s":"s","x":2.86,"y":0.367},{"p":"h","c":"g","s":"s","x":5.12,"y":1.35},{"p":"h","c":"g","s":"s","x":5.42,"y":3.8},{"p":"h","c":"g","s":"s","x":5.6,"y":18.4},{"p":"h","c":"g","s":"s","x":5.72,"y":10000},
{"p":"h","c":"g","s":"d","x":0,"y":1e-6},{"p":"h","c":"g","s":"d","x":0.08,"y":0.0126},{"p":"h","c":"g","s":"d","x":0.25,"y":0.0631},{"p":"h","c":"g","s":"d","x":0.6,"y":0.158},{"p":"h","c":"g","s":"d","x":2.96,"y":0.367},{"p":"h","c":"g","s":"d","x":5.32,"y":1.35},{"p":"h","c":"g","s":"d","x":5.62,"y":3.8},{"p":"h","c":"g","s":"d","x":5.8,"y":18.4},{"p":"h","c":"g","s":"d","x":5.92,"y":10000},
{"p":"h","c":"k","s":"s","x":0,"y":1e-6},{"p":"h","c":"k","s":"s","x":0.08,"y":0.0159},{"p":"h","c":"k","s":"s","x":0.25,"y":0.0794},{"p":"h","c":"k","s":"s","x":0.6,"y":0.2},{"p":"h","c":"k","s":"s","x":2.66,"y":0.422},{"p":"h","c":"k","s":"s","x":4.72,"y":1.41},{"p":"h","c":"k","s":"s","x":5.02,"y":3.98},{"p":"h","c":"k","s":"s","x":5.2,"y":18.8},{"p":"h","c":"k","s":"s","x":5.32,"y":10000},
{"p":"h","c":"k","s":"d","x":0,"y":1e-6},{"p":"h","c":"k","s":"d","x":0.08,"y":0.0159},{"p":"h","c":"k","s":"d","x":0.25,"y":0.0794},{"p":"h","c":"k","s":"d","x":0.6,"y":0.2},{"p":"h","c":"k","s":"d","x":2.76,"y":0.422},{"p":"h","c":"k","s":"d","x":4.92,"y":1.41},{"p":"h","c":"k","s":"d","x":5.22,"y":3.98},{"p":"h","c":"k","s":"d","x":5.4,"y":18.8},{"p":"h","c":"k","s":"d","x":5.52,"y":10000},
{"p":"h","c":"m","s":"s","x":0,"y":1e-6},{"p":"h","c":"m","s":"s","x":0.08,"y":0.02},{"p":"h","c":"m","s":"s","x":0.25,"y":0.1},{"p":"h","c":"m","s":"s","x":0.6,"y":0.251},{"p":"h","c":"m","s":"s","x":2.56,"y":0.484},{"p":"h","c":"m","s":"s","x":4.52,"y":1.48},{"p":"h","c":"m","s":"s","x":4.82,"y":4.17},{"p":"h","c":"m","s":"s","x":5.0,"y":19.3},{"p":"h","c":"m","s":"s","x":5.12,"y":10000},
{"p":"h","c":"m","s":"d","x":0,"y":1e-6},{"p":"h","c":"m","s":"d","x":0.08,"y":0.02},{"p":"h","c":"m","s":"d","x":0.25,"y":0.1},{"p":"h","c":"m","s":"d","x":0.6,"y":0.251},{"p":"h","c":"m","s":"d","x":2.61,"y":0.484},{"p":"h","c":"m","s":"d","x":4.62,"y":1.48},{"p":"h","c":"m","s":"d","x":4.92,"y":4.17},{"p":"h","c":"m","s":"d","x":5.1,"y":19.3},{"p":"h","c":"m","s":"d","x":5.22,"y":10000}
]},
"concat":[
{"width":167,"height":112,"layer":[
{"data":{"name":"curves"},"transform":[{"filter":"datum.p==='a'"}],"mark":{"type":"line","strokeWidth":1.4,"interpolate":"monotone","clip":true},
"encoding":{"x":{"field":"x","type":"quantitative","scale":{"domain":[0,6],"nice":false,"zero":false},"axis":{"values":[0,2,4,6],"title":"ℓ"}},
"y":{"field":"y","type":"quantitative","scale":{"type":"log","domain":[1e-6,10000],"nice":false},"axis":{"values":[1e-6,1e-4,0.01,1,100,10000],"labelExpr":"datum.value<1e-5?'10⁻⁶':datum.value<1e-3?'10⁻⁴':datum.value<0.1?'10⁻²':datum.value<10?'10⁰':datum.value<1000?'10²':'10⁴'","title":"λ₁,₃"}},
"color":{"field":"c","type":"nominal","scale":{"domain":["b","r","g","k","m"],"range":["#0000ff","#ff0000","#00ff00","#000000","#ff00ff"]},"legend":null},
"strokeDash":{"field":"s","type":"nominal","scale":{"domain":["s","d"],"range":[[1,0],[5,3]]},"legend":null}}},
{"data":{"values":[{"t":"(a)"}]},"mark":{"type":"text","align":"right","baseline":"middle","fontSize":14,"color":"#000000"},"encoding":{"x":{"datum":5.85},"y":{"datum":7.9e-6},"text":{"field":"t"}}}]},
{"width":167,"height":112,"layer":[
{"data":{"name":"curves"},"transform":[{"filter":"datum.p==='b'"}],"mark":{"type":"line","strokeWidth":1.4,"interpolate":"monotone","clip":true},
"encoding":{"x":{"field":"x","type":"quantitative","scale":{"domain":[0,6],"nice":false,"zero":false},"axis":{"values":[0,2,4,6],"title":"ℓ"}},
"y":{"field":"y","type":"quantitative","scale":{"type":"log","domain":[1e-6,10000],"nice":false},"axis":{"values":[1e-6,1e-4,0.01,1,100,10000],"labelExpr":"datum.value<1e-5?'10⁻⁶':datum.value<1e-3?'10⁻⁴':datum.value<0.1?'10⁻²':datum.value<10?'10⁰':datum.value<1000?'10²':'10⁴'","title":"λ₁,₃"}},
"color":{"field":"c","type":"nominal","scale":{"domain":["b","r","g","k","m"],"range":["#0000ff","#ff0000","#00ff00","#000000","#ff00ff"]},"legend":null},
"strokeDash":{"field":"s","type":"nominal","scale":{"domain":["s","d"],"range":[[1,0],[5,3]]},"legend":null}}},
{"data":{"values":[{"t":"(b)"}]},"mark":{"type":"text","align":"right","baseline":"middle","fontSize":14,"color":"#000000"},"encoding":{"x":{"datum":5.85},"y":{"datum":7.9e-6},"text":{"field":"t"}}}]},
{"width":167,"height":112,"layer":[
{"data":{"name":"curves"},"transform":[{"filter":"datum.p==='c'"}],"mark":{"type":"line","strokeWidth":1.4,"interpolate":"monotone","clip":true},
"encoding":{"x":{"field":"x","type":"quantitative","scale":{"domain":[0,6],"nice":false,"zero":false},"axis":{"values":[0,2,4,6],"title":"ℓ"}},
"y":{"field":"y","type":"quantitative","scale":{"type":"log","domain":[1e-6,10000],"nice":false},"axis":{"values":[1e-6,1e-4,0.01,1,100,10000],"labelExpr":"datum.value<1e-5?'10⁻⁶':datum.value<1e-3?'10⁻⁴':datum.value<0.1?'10⁻²':datum.value<10?'10⁰':datum.value<1000?'10²':'10⁴'","title":"λ₁,₃"}},
"color":{"field":"c","type":"nominal","scale":{"domain":["b","r","g","k","m"],"range":["#0000ff","#ff0000","#00ff00","#000000","#ff00ff"]},"legend":null},
"strokeDash":{"field":"s","type":"nominal","scale":{"domain":["s","d"],"range":[[1,0],[5,3]]},"legend":null}}},
{"data":{"values":[{"t":"(c)"}]},"mark":{"type":"text","align":"right","baseline":"middle","fontSize":14,"color":"#000000"},"encoding":{"x":{"datum":5.85},"y":{"datum":7.9e-6},"text":{"field":"t"}}}]},
{"width":167,"height":112,"layer":[
{"data":{"name":"curves"},"transform":[{"filter":"datum.p==='d'"}],"mark":{"type":"line","strokeWidth":1.4,"interpolate":"monotone","clip":true},
"encoding":{"x":{"field":"x","type":"quantitative","scale":{"domain":[0,6],"nice":false,"zero":false},"axis":{"values":[0,2,4,6],"title":"ℓ"}},
"y":{"field":"y","type":"quantitative","scale":{"type":"log","domain":[1e-6,10000],"nice":false},"axis":{"values":[1e-6,1e-4,0.01,1,100,10000],"labelExpr":"datum.value<1e-5?'10⁻⁶':datum.value<1e-3?'10⁻⁴':datum.value<0.1?'10⁻²':datum.value<10?'10⁰':datum.value<1000?'10²':'10⁴'","title":"λ₁,₃"}},
"color":{"field":"c","type":"nominal","scale":{"domain":["b","r","g","k","m"],"range":["#0000ff","#ff0000","#00ff00","#000000","#ff00ff"]},"legend":null},
"strokeDash":{"field":"s","type":"nominal","scale":{"domain":["s","d"],"range":[[1,0],[5,3]]},"legend":null}}},
{"data":{"values":[{"t":"(d)"}]},"mark":{"type":"text","align":"right","baseline":"middle","fontSize":14,"color":"#000000"},"encoding":{"x":{"datum":5.85},"y":{"datum":7.9e-6},"text":{"field":"t"}}}]},
{"width":167,"height":112,"layer":[
{"data":{"name":"curves"},"transform":[{"filter":"datum.p==='e'"}],"mark":{"type":"line","strokeWidth":1.4,"interpolate":"monotone","clip":true},
"encoding":{"x":{"field":"x","type":"quantitative","scale":{"domain":[0,8],"nice":false,"zero":false},"axis":{"values":[0,2,4,6,8],"title":"ℓ"}},
"y":{"field":"y","type":"quantitative","scale":{"type":"log","domain":[1e-6,10000],"nice":false},"axis":{"values":[1e-6,1e-4,0.01,1,100,10000],"labelExpr":"datum.value<1e-5?'10⁻⁶':datum.value<1e-3?'10⁻⁴':datum.value<0.1?'10⁻²':datum.value<10?'10⁰':datum.value<1000?'10²':'10⁴'","title":"λ₁,₃"}},
"color":{"field":"c","type":"nominal","scale":{"domain":["b","r","g","k","m"],"range":["#0000ff","#ff0000","#00ff00","#000000","#ff00ff"]},"legend":null},
"strokeDash":{"field":"s","type":"nominal","scale":{"domain":["s","d"],"range":[[1,0],[5,3]]},"legend":null}}},
{"data":{"values":[{"t":"(e)"}]},"mark":{"type":"text","align":"right","baseline":"middle","fontSize":14,"color":"#000000"},"encoding":{"x":{"datum":7.8},"y":{"datum":7.9e-6},"text":{"field":"t"}}}]},
{"width":167,"height":112,"layer":[
{"data":{"name":"curves"},"transform":[{"filter":"datum.p==='f'"}],"mark":{"type":"line","strokeWidth":1.4,"interpolate":"monotone","clip":true},
"encoding":{"x":{"field":"x","type":"quantitative","scale":{"domain":[0,8],"nice":false,"zero":false},"axis":{"values":[0,2,4,6,8],"title":"ℓ"}},
"y":{"field":"y","type":"quantitative","scale":{"type":"log","domain":[1e-6,10000],"nice":false},"axis":{"values":[1e-6,1e-4,0.01,1,100,10000],"labelExpr":"datum.value<1e-5?'10⁻⁶':datum.value<1e-3?'10⁻⁴':datum.value<0.1?'10⁻²':datum.value<10?'10⁰':datum.value<1000?'10²':'10⁴'","title":"λ₁,₃"}},
"color":{"field":"c","type":"nominal","scale":{"domain":["b","r","g","k","m"],"range":["#0000ff","#ff0000","#00ff00","#000000","#ff00ff"]},"legend":null},
"strokeDash":{"field":"s","type":"nominal","scale":{"domain":["s","d"],"range":[[1,0],[5,3]]},"legend":null}}},
{"data":{"values":[{"t":"(f)"}]},"mark":{"type":"text","align":"right","baseline":"middle","fontSize":14,"color":"#000000"},"encoding":{"x":{"datum":7.8},"y":{"datum":7.9e-6},"text":{"field":"t"}}}]},
{"width":167,"height":112,"layer":[
{"data":{"name":"curves"},"transform":[{"filter":"datum.p==='g'"}],"mark":{"type":"line","strokeWidth":1.4,"interpolate":"monotone","clip":true},
"encoding":{"x":{"field":"x","type":"quantitative","scale":{"domain":[0,8],"nice":false,"zero":false},"axis":{"values":[0,2,4,6,8],"title":"ℓ"}},
"y":{"field":"y","type":"quantitative","scale":{"type":"log","domain":[1e-6,10000],"nice":false},"axis":{"values":[1e-6,1e-4,0.01,1,100,10000],"labelExpr":"datum.value<1e-5?'10⁻⁶':datum.value<1e-3?'10⁻⁴':datum.value<0.1?'10⁻²':datum.value<10?'10⁰':datum.value<1000?'10²':'10⁴'","title":"λ₁,₃"}},
"color":{"field":"c","type":"nominal","scale":{"domain":["b","r","g","k","m"],"range":["#0000ff","#ff0000","#00ff00","#000000","#ff00ff"]},"legend":null},
"strokeDash":{"field":"s","type":"nominal","scale":{"domain":["s","d"],"range":[[1,0],[5,3]]},"legend":null}}},
{"data":{"values":[{"t":"(g)"}]},"mark":{"type":"text","align":"right","baseline":"middle","fontSize":14,"color":"#000000"},"encoding":{"x":{"datum":7.8},"y":{"datum":7.9e-6},"text":{"field":"t"}}}]},
{"width":167,"height":112,"layer":[
{"data":{"name":"curves"},"transform":[{"filter":"datum.p==='h'"}],"mark":{"type":"line","strokeWidth":1.4,"interpolate":"monotone","clip":true},
"encoding":{"x":{"field":"x","type":"quantitative","scale":{"domain":[0,10],"nice":false,"zero":false},"axis":{"values":[0,5,10],"title":"ℓ"}},
"y":{"field":"y","type":"quantitative","scale":{"type":"log","domain":[1e-6,10000],"nice":false},"axis":{"values":[1e-6,1e-4,0.01,1,100,10000],"labelExpr":"datum.value<1e-5?'10⁻⁶':datum.value<1e-3?'10⁻⁴':datum.value<0.1?'10⁻²':datum.value<10?'10⁰':datum.value<1000?'10²':'10⁴'","title":"λ₁,₃"}},
"color":{"field":"c","type":"nominal","scale":{"domain":["b","r","g","k","m"],"range":["#0000ff","#ff0000","#00ff00","#000000","#ff00ff"]},"legend":null},
"strokeDash":{"field":"s","type":"nominal","scale":{"domain":["s","d"],"range":[[1,0],[5,3]]},"legend":null}}},
{"data":{"values":[{"t":"(h)"}]},"mark":{"type":"text","align":"right","baseline":"middle","fontSize":14,"color":"#000000"},"encoding":{"x":{"datum":9.75},"y":{"datum":7.9e-6},"text":{"field":"t"}}}]}
],
"config":{
"view":{"stroke":"#a6a6a6","strokeWidth":1},
"font":"Liberation Sans",
"axis":{"domain":false,"grid":false,"ticks":true,"tickSize":-3,"tickColor":"#555555","labelPadding":5,"labelFont":"Liberation Sans","labelFontSize":10,"labelColor":"#262626","titleFont":"Liberation Sans","titleFontSize":13,"titleFontWeight":"normal","titleColor":"#262626","titlePadding":2},
"axisX":{"titleFontStyle":"italic"},
"text":{"font":"Liberation Sans"}
}
}
